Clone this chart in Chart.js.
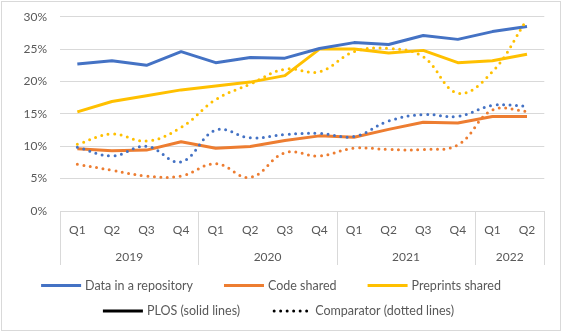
<!DOCTYPE html>
<html><head><meta charset="utf-8">
<script src="https://cdn.jsdelivr.net/npm/chart.js@4.4.0/dist/chart.umd.min.js"></script>
<style>
html,body{margin:0;padding:0;background:#fff;}
#wrap{position:absolute;left:1px;top:1px;width:560px;height:330px;box-sizing:border-box;border:1px solid #d9d9d9;}
canvas{display:block;}
</style></head><body>
<div id="wrap"><canvas id="c" width="558" height="328"></canvas></div>
<script>
const quarters = ['Q1','Q2','Q3','Q4','Q1','Q2','Q3','Q4','Q1','Q2','Q3','Q4','Q1','Q2'];
const years = ['2019','2020','2021','2022'];
const quartersPerYear = [4,4,4,2];
const seriesNames = ['Data in a repository','Code shared','Preprints shared'];
const styleNames = ['PLOS (solid lines)','Comparator (dotted lines)'];
const yTicks = [0,5,10,15,20,25,30];

const dataPLOS      = [22.7,23.2,22.5,24.6,22.9,23.7,23.6,25.1,26.0,25.7,27.1,26.5,27.7,28.5];
const codePLOS      = [9.6,9.3,9.4,10.7,9.7,9.95,10.9,11.6,11.4,12.6,13.7,13.6,14.6,14.6];
const preprintPLOS  = [15.3,16.9,17.8,18.7,19.3,19.9,20.9,25.0,25.0,24.4,24.8,22.9,23.2,24.2];
const dataComp      = [9.85,8.5,10.0,7.6,12.5,11.3,11.8,12.0,11.5,13.9,14.9,14.6,16.3,16.2];
const codeComp      = [7.2,6.3,5.4,5.4,7.3,5.2,9.0,8.5,9.7,9.5,9.5,10.2,15.6,15.4];
const preprintComp  = [10.3,11.9,10.8,12.9,17.2,19.6,21.9,21.5,24.6,25.1,23.8,18.2,21.5,29.6];

const BLUE='#4472C4', ORANGE='#ED7D31', YELLOW='#FFC000';
const TEXT='#595959', GRID='#D9D9D9';
const FONT='Lato';

// year centres and boundaries on the index scale
const yearCenters=[], yearBounds=[-0.5];
let acc=0;
quartersPerYear.forEach(n=>{ yearCenters.push(acc+(n-1)/2); acc+=n; yearBounds.push(acc-0.5); });

function solid(label,data,color){
  return {label,data,borderColor:color,backgroundColor:color,borderWidth:3,pointRadius:0,tension:0,borderJoinStyle:'round'};
}
function dotted(label,data,color){
  return {label,data,borderColor:color,backgroundColor:color,borderWidth:3,pointRadius:0,tension:0.4,
    borderDash:[0,6.5],borderCapStyle:'round'};
}

const separators={
  id:'separators',
  afterDraw(chart){
    const ctx=chart.ctx, x2=chart.scales.x2, area=chart.chartArea;
    ctx.save();
    ctx.strokeStyle=GRID; ctx.lineWidth=1;
    yearBounds.forEach(b=>{
      const px=Math.round(x2.getPixelForValue(b))+0.5;
      ctx.beginPath(); ctx.moveTo(px,area.bottom); ctx.lineTo(px,x2.bottom); ctx.stroke();
    });
    ctx.restore();
  }
};

const legendItems=[
  {text:seriesNames[0],color:BLUE,dash:false},
  {text:seriesNames[1],color:ORANGE,dash:false},
  {text:seriesNames[2],color:YELLOW,dash:false},
  {text:styleNames[0],color:'#000',dash:false},
  {text:styleNames[1],color:'#000',dash:true}
];
const legendRows=[[0,1,2],[3,4]];
const customLegend={
  id:'customLegend',
  afterDraw(chart){
    const ctx=chart.ctx;
    ctx.save();
    ctx.font='12.5px '+FONT;
    ctx.textBaseline='middle';
    const lineW=40, gapT=4, gapI=31;
    const rowY=[chart.height-44.5, chart.height-19];
    const rowCenter=[chart.width/2-10, chart.width/2-2.5];
    legendRows.forEach((row,r)=>{
      const widths=row.map(i=>lineW+gapT+ctx.measureText(legendItems[i].text).width);
      const total=widths.reduce((a,b)=>a+b,0)+gapI*(row.length-1);
      let x=rowCenter[r]-total/2;
      row.forEach((i,k)=>{
        const it=legendItems[i], y=rowY[r];
        ctx.beginPath();
        ctx.strokeStyle=it.color; ctx.lineWidth=3;
        if(it.dash){ctx.setLineDash([0,6.5]); ctx.lineCap='round'; ctx.moveTo(x+3,y); ctx.lineTo(x+lineW,y);}
        else{ctx.setLineDash([]); ctx.lineCap='butt'; ctx.moveTo(x,y); ctx.lineTo(x+lineW,y);}
        ctx.stroke();
        ctx.fillStyle=TEXT;
        ctx.fillText(it.text,x+lineW+gapT,y);
        x+=widths[k]+gapI;
      });
    });
    ctx.restore();
  }
};

new Chart(document.getElementById('c'),{
  type:'line',
  data:{
    labels:quarters,
    datasets:[
      dotted(seriesNames[0]+' comparator',dataComp,BLUE),
      dotted(seriesNames[1]+' comparator',codeComp,ORANGE),
      dotted(seriesNames[2]+' comparator',preprintComp,YELLOW),
      solid(seriesNames[0],dataPLOS,BLUE),
      solid(seriesNames[1],codePLOS,ORANGE),
      solid(seriesNames[2],preprintPLOS,YELLOW)
    ]
  },
  options:{
    responsive:false,
    animation:false,
    layout:{padding:{left:8.5,right:15.7,top:0,bottom:65}},
    plugins:{legend:{display:false},tooltip:{enabled:false}},
    scales:{
      x:{
        type:'category',offset:true,
        grid:{display:false,drawTicks:false,tickLength:0},border:{display:false},
        ticks:{color:TEXT,font:{family:FONT,size:12},padding:11.8,maxRotation:0,autoSkip:false},
        afterFit(axis){axis.height=26;}
      },
      x2:{
        type:'linear',position:'bottom',min:-0.5,max:13.5,
        grid:{display:false,drawTicks:false,tickLength:0},border:{display:false},
        afterBuildTicks(axis){axis.ticks=yearCenters.map(v=>({value:v}));},
        ticks:{color:TEXT,font:{family:FONT,size:12},padding:12.5,maxRotation:0,autoSkip:false,
          callback:(v,i)=>years[i]},
        afterFit(axis){axis.height=28;}
      },
      y:{
        min:0,max:30,
        afterBuildTicks(axis){axis.ticks=yTicks.map(v=>({value:v}));},
        grid:{color:GRID,lineWidth:1,drawTicks:false},border:{display:false},
        ticks:{color:TEXT,font:{family:FONT,size:12},padding:13,callback:v=>v+'%'},
        afterFit(axis){axis.paddingTop=14.7;}
      }
    }
  },
  plugins:[separators,customLegend]
});
</script>
</body></html>
